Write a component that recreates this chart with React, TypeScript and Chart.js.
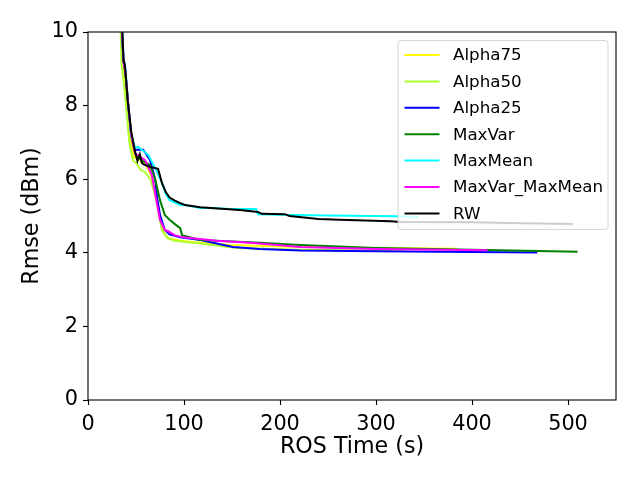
import React, { useEffect, useRef } from "react";
import { Chart, registerables } from "chart.js";

Chart.register(...registerables);

const xTicks = [0, 100, 200, 300, 400, 500];
const yTicks = [0, 2, 4, 6, 8, 10];

const seriesNames = ["Alpha75", "Alpha50", "Alpha25", "MaxVar", "MaxMean", "MaxVar_MaxMean", "RW"];
const seriesColors = ["#ffff00", "#adff2f", "#0000ff", "#008000", "#00ffff", "#ff00ff", "#000000"];

const alpha75X = [34.5, 36, 38, 41, 44, 48, 51, 55, 60, 66, 71, 76, 80, 83, 96, 117, 148, 221, 300, 385];
const alpha75Y = [10.5, 9.2, 8.9, 7.9, 7.1, 6.6, 6.55, 6.5, 6.4, 6.1, 5.6, 4.8, 4.5, 4.4, 4.33, 4.27, 4.21, 4.16, 4.13, 4.11];

const alpha50X = [33.5, 35, 37, 40, 43, 47, 50, 55, 59, 65, 70, 74, 77, 83, 90, 117, 155, 220, 330];
const alpha50Y = [10.5, 9.1, 8.7, 7.9, 7.0, 6.5, 6.45, 6.25, 6.2, 6.0, 5.57, 5.0, 4.62, 4.4, 4.33, 4.25, 4.13, 4.08, 4.05];

const alpha25X = [34.5, 37, 39, 42, 45, 49, 52, 57.5, 64.5, 67, 70, 72, 75, 80, 85, 96, 117, 151, 179, 221, 300, 400, 468];
const alpha25Y = [10.5, 9.2, 8.9, 8.0, 7.2, 6.8, 6.8, 6.8, 6.52, 6.3, 5.98, 5.5, 5.03, 4.62, 4.5, 4.42, 4.35, 4.16, 4.1, 4.06, 4.04, 4.02, 4.01];

const maxVarX = [34.5, 37, 39, 42, 45, 49, 52, 57, 64.5, 70, 75, 80, 85, 90.5, 96, 98, 117, 179, 221, 300, 400, 510];
const maxVarY = [10.5, 9.2, 8.9, 8.0, 7.2, 6.7, 6.6, 6.5, 6.39, 6.0, 5.43, 5.03, 4.9, 4.78, 4.67, 4.48, 4.35, 4.27, 4.21, 4.13, 4.08, 4.03];

const maxMeanX = [34.5, 37, 39, 42, 45, 49, 52, 57, 63, 67, 72, 77, 81, 85, 96, 101, 117, 127, 148, 175, 177, 210, 231, 273, 320, 344];
const maxMeanY = [10.5, 9.3, 9.0, 8.0, 7.2, 6.85, 6.88, 6.78, 6.65, 6.45, 6.2, 5.9, 5.6, 5.43, 5.3, 5.3, 5.22, 5.22, 5.19, 5.19, 5.05, 5.03, 5.02, 5.01, 4.99, 4.97];

const maxVarMaxMeanX = [34.5, 37, 39, 42, 45, 49, 52, 59.5, 66.5, 70, 75, 80, 84, 90, 99, 134, 169, 221, 300, 416];
const maxVarMaxMeanY = [10.5, 9.2, 8.9, 8.0, 7.2, 6.7, 6.65, 6.52, 6.11, 5.6, 4.89, 4.62, 4.58, 4.48, 4.42, 4.33, 4.27, 4.16, 4.1, 4.07];

const rwX = [35, 37, 38.5, 41.5, 45, 49, 51.5, 54, 56, 58, 65, 73, 77, 81, 85, 90.5, 96, 101, 117, 132, 158, 177, 181, 205, 210, 240, 262, 315, 326, 400, 450, 505];
const rwY = [10.5, 9.25, 9.1, 8.1, 7.3, 6.75, 6.5, 6.68, 6.45, 6.4, 6.33, 6.28, 5.9, 5.65, 5.5, 5.42, 5.35, 5.3, 5.24, 5.21, 5.16, 5.11, 5.06, 5.05, 5.0, 4.92, 4.9, 4.86, 4.84, 4.83, 4.8, 4.78];

const seriesX = [alpha75X, alpha50X, alpha25X, maxVarX, maxMeanX, maxVarMaxMeanX, rwX];
const seriesY = [alpha75Y, alpha50Y, alpha25Y, maxVarY, maxMeanY, maxVarMaxMeanY, rwY];

const FONT = "DejaVu Sans";
const TICK_SIZE = 20.8;
const TITLE_SIZE = 22.2;
const LEGEND_SIZE = 16.7;

const framePlugin = {
  id: "mplFrameLegend",
  afterDraw(chart: any) {
    const ctx = chart.ctx;
    const { left, top, right, bottom } = chart.chartArea;
    ctx.save();
    ctx.strokeStyle = "#000";
    ctx.lineWidth = 1.1;
    ctx.strokeRect(left, top, right - left, bottom - top);

    const bw = 210;
    const bh = 189;
    const bx = right - 8 - bw;
    const by = top + 8.5;
    const r = 3;
    ctx.beginPath();
    ctx.moveTo(bx + r, by);
    ctx.lineTo(bx + bw - r, by);
    ctx.quadraticCurveTo(bx + bw, by, bx + bw, by + r);
    ctx.lineTo(bx + bw, by + bh - r);
    ctx.quadraticCurveTo(bx + bw, by + bh, bx + bw - r, by + bh);
    ctx.lineTo(bx + r, by + bh);
    ctx.quadraticCurveTo(bx, by + bh, bx, by + bh - r);
    ctx.lineTo(bx, by + r);
    ctx.quadraticCurveTo(bx, by, bx + r, by);
    ctx.closePath();
    ctx.fillStyle = "rgba(255,255,255,0.8)";
    ctx.fill();
    ctx.strokeStyle = "rgba(204,204,204,0.8)";
    ctx.lineWidth = 1;
    ctx.stroke();

    ctx.font = `${LEGEND_SIZE}px "${FONT}"`;
    ctx.textBaseline = "middle";
    ctx.textAlign = "left";
    for (let i = 0; i < seriesNames.length; i++) {
      const yy = by + 14.5 + i * 26.4;
      ctx.strokeStyle = seriesColors[i];
      ctx.lineWidth = 2;
      ctx.beginPath();
      ctx.moveTo(bx + 6.5, yy);
      ctx.lineTo(bx + 41.5, yy);
      ctx.stroke();
      ctx.fillStyle = "#000";
      ctx.fillText(seriesNames[i], bx + 55, yy + 1);
    }
    ctx.restore();
  },
};

export default function App() {
  const canvasRef = useRef<HTMLCanvasElement | null>(null);

  useEffect(() => {
    const canvas = canvasRef.current;
    if (!canvas) return;
    const order = [6, 5, 4, 3, 2, 1, 0];
    const datasets = seriesNames.map((name, i) => ({
      label: name,
      data: seriesX[i].map((x, j) => ({ x, y: seriesY[i][j] })),
      borderColor: seriesColors[i],
      backgroundColor: seriesColors[i],
      borderWidth: 2,
      pointRadius: 0,
      tension: 0,
      fill: false,
      clip: 0,
      order: order[i],
    }));

    const chart = new Chart(canvas, {
      type: "line",
      data: { datasets },
      plugins: [framePlugin],
      options: {
        animation: false,
        responsive: false,
        devicePixelRatio: 1,
        layout: { padding: { left: 0, right: 24, top: 32, bottom: 0 } },
        plugins: {
          legend: { display: false },
          tooltip: { enabled: false },
          title: { display: false },
        },
        scales: {
          x: {
            type: "linear",
            min: 0,
            max: 550,
            afterBuildTicks: (scale: any) => {
              scale.ticks = xTicks.map((v) => ({ value: v }));
            },
            afterFit: (scale: any) => {
              scale.height = 80;
            },
            border: { display: false },
            grid: {
              drawOnChartArea: false,
              drawTicks: true,
              tickLength: 5,
              tickColor: "#000",
              tickWidth: 1.1,
              color: "#000",
            },
            ticks: {
              color: "#000",
              padding: 7,
              maxRotation: 0,
              autoSkip: false,
              font: { family: FONT, size: TICK_SIZE },
            },
            title: {
              display: true,
              text: "ROS Time (s)",
              color: "#000",
              font: { family: FONT, size: TITLE_SIZE, lineHeight: 1.2 },
              padding: { top: 0, bottom: 19.5 },
            },
          },
          y: {
            type: "linear",
            min: 0,
            max: 10,
            afterBuildTicks: (scale: any) => {
              scale.ticks = yTicks.map((v) => ({ value: v }));
            },
            afterFit: (scale: any) => {
              scale.width = 88;
            },
            border: { display: false },
            grid: {
              drawOnChartArea: false,
              drawTicks: true,
              tickLength: 5,
              tickColor: "#000",
              tickWidth: 1.1,
              color: "#000",
            },
            ticks: {
              color: "#000",
              padding: 5,
              autoSkip: false,
              font: { family: FONT, size: TICK_SIZE },
            },
            title: {
              display: true,
              text: "Rmse (dBm)",
              color: "#000",
              font: { family: FONT, size: TITLE_SIZE, lineHeight: 1.2 },
              padding: { top: 19.2, bottom: 0 },
            },
          },
        },
      },
    } as any);

    return () => {
      chart.destroy();
    };
  }, []);

  return (
    <div style={{ position: "fixed", left: 0, top: 0, width: 640, height: 480, background: "#fff" }}>
      <canvas ref={canvasRef} width={640} height={480} style={{ width: 640, height: 480, display: "block" }} />
    </div>
  );
}
